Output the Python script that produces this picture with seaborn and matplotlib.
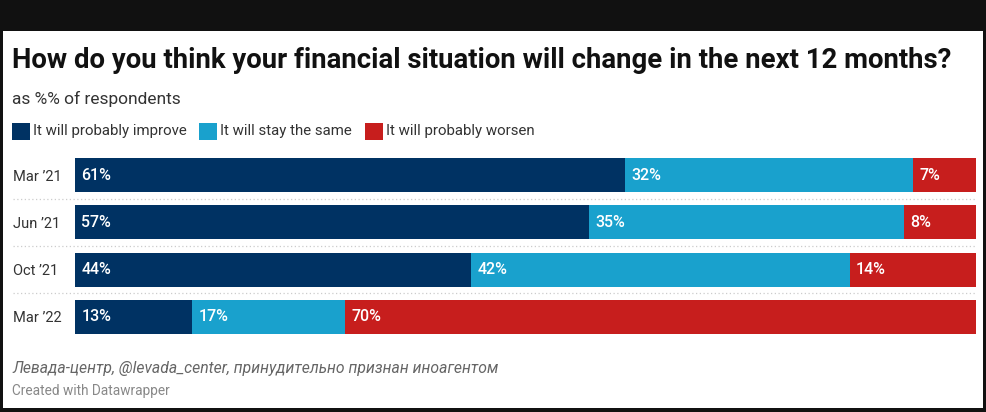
import pandas as pd
import matplotlib.pyplot as plt
import seaborn as sns
from matplotlib.patches import Rectangle

# Data
periods = ["Mar ’21", "Jun ’21", "Oct ’21", "Mar ’22"]
improve = [61, 57, 44, 13]
same = [32, 35, 42, 17]
worsen = [7, 8, 14, 70]
series_names = ["It will probably improve", "It will stay the same", "It will probably worsen"]
colors = ["#003263", "#19a1cd", "#c71e1d"]

sns.set_theme(style="white")
plt.rcParams["font.family"] = ["Roboto", "DejaVu Sans"]

W, H = 986, 412
fig = plt.figure(figsize=(W / 100, H / 100), dpi=100, facecolor="#111111")

# white card inside the dark frame
fig.patches.append(Rectangle((3 / W, 4 / H), 980 / W, 377 / H, transform=fig.transFigure,
                             facecolor="white", edgecolor="none", zorder=-10))

df = pd.DataFrame({"period": periods, "improve": improve, "same": same, "worsen": worsen})
df["cum1"] = df["improve"]
df["cum2"] = df["improve"] + df["same"]
df["cum3"] = df["cum2"] + df["worsen"]

# axes placed in pixels: bars span x 75..976, rows centred at 175..317
row = 47.33
top_px = 175 - row / 2
bot_px = 317 + row / 2
ax = fig.add_axes([75 / W, (H - bot_px) / H, 901 / W, (bot_px - top_px) / H])
ax.set_facecolor("none")
ax.set_zorder(5)

# stacked bars: draw cumulative totals, largest first
for col, c in zip(["cum3", "cum2", "cum1"], colors[::-1]):
    sns.barplot(data=df, x=col, y="period", color=c, width=0.72, saturation=1,
                orient="h", ax=ax, edgecolor="none", linewidth=0)

ax.set_xlim(0, 100)
ax.set_ylim(3.5, -0.5)
ax.set_xlabel("")
ax.set_ylabel("")
ax.set_xticks([])
sns.despine(ax=ax, left=True, bottom=True)
ax.tick_params(axis="y", length=0, pad=62 * 0.72)
for lab in ax.get_yticklabels():
    lab.set_horizontalalignment("left")
    lab.set_fontsize(10.5)
    lab.set_color("#333333")

# value labels
for i in range(len(periods)):
    starts = [0, df["cum1"][i], df["cum2"][i]]
    vals = [improve[i], same[i], worsen[i]]
    for s, v in zip(starts, vals):
        ax.text(s + 0.7, i, f"{v}%", color="white", fontsize=11.5, fontweight="medium",
                va="center", ha="left")

# dotted separators between rows
for y in [0.5, 1.5, 2.5]:
    ax.axhline(y, xmin=(13 - 75) / 901, xmax=1, color="#cccccc", lw=0.9,
               ls=(0, (1, 2)), clip_on=False)

# header text
fig.text(12 / W, 1 - 60 / H, "How do you think your financial situation will change in the next 12 months?",
         fontsize=19.8, fontweight="bold", color="#111111", va="center", ha="left")
fig.text(12 / W, 1 - 99 / H, "as %% of respondents", fontsize=12.5, color="#333333",
         va="center", ha="left")

# legend
leg_x = [12, 199, 365]
for x, name, c in zip(leg_x, series_names, colors):
    fig.patches.append(Rectangle((x / W, 1 - 140 / H), 18 / W, 17 / H, transform=fig.transFigure,
                                 facecolor=c, edgecolor="none"))
    fig.text((x + 21) / W, 1 - 131 / H, name, fontsize=10.8, color="#333333",
             va="center", ha="left")

# footer
fig.text(12 / W, 1 - 368 / H, "Левада-центр, @levada_center, принудительно признан иноагентом",
         fontsize=11.3, style="italic", color="#666666", va="center", ha="left")
fig.text(12 / W, 1 - 391 / H, "Created with Datawrapper", fontsize=9.8, color="#888888",
         va="center", ha="left")

fig.savefig("out.png", dpi=100, facecolor=fig.get_facecolor())
